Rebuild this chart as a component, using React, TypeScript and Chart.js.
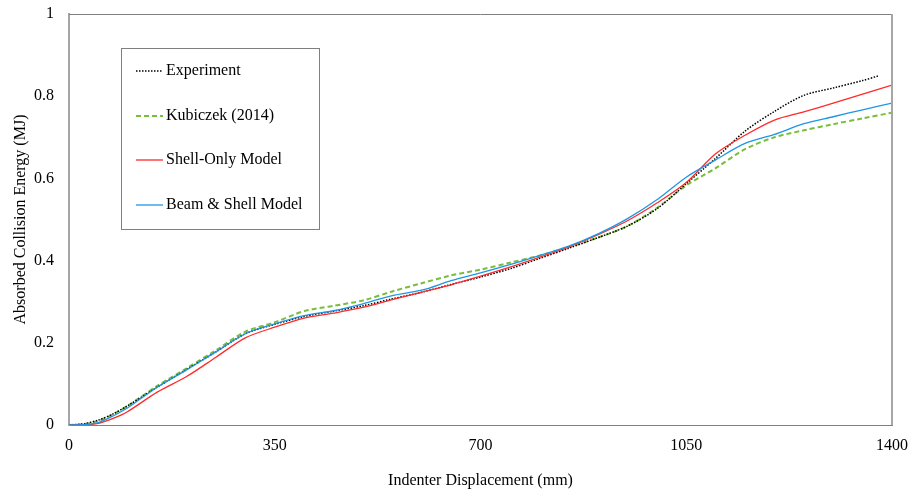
import React, { useEffect, useRef } from "react";
import { Chart, registerables } from "chart.js";

Chart.register(...registerables);

const displacement = [0, 25, 50, 75, 100, 150, 200, 250, 300, 350, 400, 450, 500, 550, 600, 650, 700, 750, 800, 850, 900, 950, 1000, 1050, 1100, 1150, 1200, 1250, 1300, 1350, 1400];
const experimentDisp = [0, 25, 50, 75, 100, 150, 200, 250, 300, 350, 400, 450, 500, 550, 600, 650, 700, 750, 800, 850, 900, 950, 1000, 1050, 1100, 1150, 1200, 1250, 1300, 1350, 1376];

const experiment = [0, 0.003, 0.012, 0.027, 0.047, 0.092, 0.135, 0.178, 0.222, 0.245, 0.264, 0.277, 0.29, 0.307, 0.323, 0.342, 0.36, 0.38, 0.405, 0.43, 0.456, 0.484, 0.526, 0.587, 0.649, 0.715, 0.763, 0.802, 0.82, 0.838, 0.849];
const kubiczek = [0, 0.002, 0.01, 0.026, 0.047, 0.095, 0.138, 0.182, 0.227, 0.25, 0.277, 0.29, 0.303, 0.325, 0.345, 0.364, 0.378, 0.395, 0.412, 0.433, 0.456, 0.484, 0.528, 0.583, 0.625, 0.671, 0.7, 0.717, 0.732, 0.746, 0.76];
const shellOnly = [0, 0, 0.004, 0.016, 0.033, 0.08, 0.118, 0.165, 0.212, 0.238, 0.26, 0.272, 0.286, 0.305, 0.323, 0.341, 0.362, 0.384, 0.408, 0.433, 0.463, 0.497, 0.54, 0.59, 0.66, 0.705, 0.742, 0.762, 0.783, 0.805, 0.827];
const beamShell = [0, 0.001, 0.006, 0.022, 0.042, 0.092, 0.134, 0.178, 0.222, 0.246, 0.266, 0.278, 0.295, 0.315, 0.328, 0.351, 0.37, 0.39, 0.412, 0.435, 0.465, 0.502, 0.548, 0.603, 0.645, 0.685, 0.707, 0.733, 0.75, 0.767, 0.783];

const seriesNames = ["Experiment", "Kubiczek (2014)", "Shell-Only Model", "Beam & Shell Model"];
const xTicks = [0, 350, 700, 1050, 1400];
const yTicks = [0, 0.2, 0.4, 0.6, 0.8, 1];
const xTitle = "Indenter Displacement (mm)";
const yTitle = "Absorbed Collision Energy (MJ)";

const FONT = "'Liberation Serif', 'Times New Roman', serif";

const styles = [
  { color: "#000000", width: 1.5, dash: [1.5, 1.5] },
  { color: "#78BE3C", width: 2, dash: [5, 3] },
  { color: "#FF2A2A", width: 1.3, dash: [] as number[] },
  { color: "#1E96E6", width: 1.3, dash: [] as number[] },
];

const pts = (xs: number[], ys: number[]) => xs.map((x, i) => ({ x, y: ys[i] }));

const zeroPad = (scale: any) => {
  scale.paddingLeft = 0;
  scale.paddingRight = 0;
  scale.paddingTop = 0;
  scale.paddingBottom = 0;
};

const framePlugin = {
  id: "frame",
  afterDatasetsDraw(chart: any) {
    const { ctx, chartArea } = chart;
    ctx.save();
    ctx.strokeStyle = "#7F7F7F";
    ctx.lineWidth = 1;
    ctx.beginPath();
    ctx.moveTo(chartArea.left, chartArea.top + 0.5);
    ctx.lineTo(chartArea.right, chartArea.top + 0.5);
    ctx.stroke();
    ctx.strokeStyle = "#A6A6A6";
    ctx.lineWidth = 2;
    ctx.beginPath();
    ctx.moveTo(chartArea.right, chartArea.top);
    ctx.lineTo(chartArea.right, chartArea.bottom);
    ctx.stroke();
    ctx.restore();
  },
};

const legendPlugin = {
  id: "boxLegend",
  afterDraw(chart: any) {
    const { ctx, chartArea } = chart;
    const bx = chartArea.left + 52;
    const by = chartArea.top + 34;
    const bw = 198;
    const bh = 181;
    ctx.save();
    ctx.fillStyle = "#FFFFFF";
    ctx.fillRect(bx, by, bw, bh);
    ctx.strokeStyle = "#7F7F7F";
    ctx.lineWidth = 1;
    ctx.strokeRect(bx + 0.5, by + 0.5, bw, bh);
    const rowY = [23, 68, 112, 157];
    ctx.font = `16px ${FONT}`;
    ctx.textBaseline = "middle";
    ctx.textAlign = "left";
    seriesNames.forEach((name, i) => {
      const s = styles[i];
      const y = by + rowY[i];
      ctx.strokeStyle = s.color;
      ctx.lineWidth = s.width;
      ctx.setLineDash(s.dash);
      ctx.beginPath();
      ctx.moveTo(bx + 15, y);
      ctx.lineTo(bx + 42, y);
      ctx.stroke();
      ctx.setLineDash([]);
      ctx.fillStyle = "#000000";
      ctx.fillText(name, bx + 45, y);
    });
    ctx.restore();
  },
};

export default function App() {
  const ref = useRef<HTMLCanvasElement | null>(null);
  useEffect(() => {
    if (!ref.current) return;
    const seriesData = [
      pts(experimentDisp, experiment),
      pts(displacement, kubiczek),
      pts(displacement, shellOnly),
      pts(displacement, beamShell),
    ];
    const order = [2, 3, 1, 0];
    const chart = new Chart(ref.current, {
      type: "line",
      data: {
        datasets: seriesNames.map((name, i) => ({
          label: name,
          data: seriesData[i],
          borderColor: styles[i].color,
          borderWidth: styles[i].width,
          borderDash: styles[i].dash,
          pointRadius: 0,
          fill: false,
          tension: 0.3,
          order: order[i],
        })),
      },
      options: {
        animation: false,
        responsive: false,
        maintainAspectRatio: false,
        devicePixelRatio: 1,
        layout: { padding: { top: 14, right: 17, left: 0, bottom: 0 } },
        plugins: { legend: { display: false }, tooltip: { enabled: false } },
        scales: {
          x: {
            type: "linear",
            min: 0,
            max: 1400,
            grid: { display: false, drawTicks: false },
            border: { display: true, color: "#7F7F7F", width: 1 },
            afterBuildTicks: (scale: any) => {
              scale.ticks = xTicks.map((v) => ({ value: v }));
            },
            afterFit: (scale: any) => {
              scale.height = 67;
              zeroPad(scale);
            },
            ticks: {
              color: "#000000",
              font: { family: FONT, size: 16 },
              padding: 11,
              maxRotation: 0,
              callback: (v: any) => String(v),
            },
            title: {
              display: true,
              text: xTitle,
              color: "#000000",
              font: { family: FONT, size: 16 },
              padding: { top: 0, bottom: 2 },
            },
          },
          y: {
            type: "linear",
            min: 0,
            max: 1,
            grid: { display: false, drawTicks: false },
            border: { display: true, color: "#A6A6A6", width: 2 },
            afterBuildTicks: (scale: any) => {
              scale.ticks = yTicks.map((v) => ({ value: v }));
            },
            afterFit: (scale: any) => {
              scale.width = 69;
              zeroPad(scale);
            },
            ticks: {
              color: "#000000",
              font: { family: FONT, size: 16 },
              padding: 15,
              callback: (v: any) => String(Math.round(v * 10) / 10),
            },
            title: {
              display: true,
              text: yTitle,
              color: "#000000",
              font: { family: FONT, size: 16 },
              padding: { top: 11, bottom: 0 },
            },
          },
        },
      },
      plugins: [framePlugin, legendPlugin],
    });
    return () => chart.destroy();
  }, []);
  return (
    <div style={{ position: "fixed", left: 0, top: 0, width: 909, height: 492, background: "#FFFFFF" }}>
      <canvas ref={ref} width={909} height={492} style={{ display: "block", width: 909, height: 492 }} />
    </div>
  );
}
